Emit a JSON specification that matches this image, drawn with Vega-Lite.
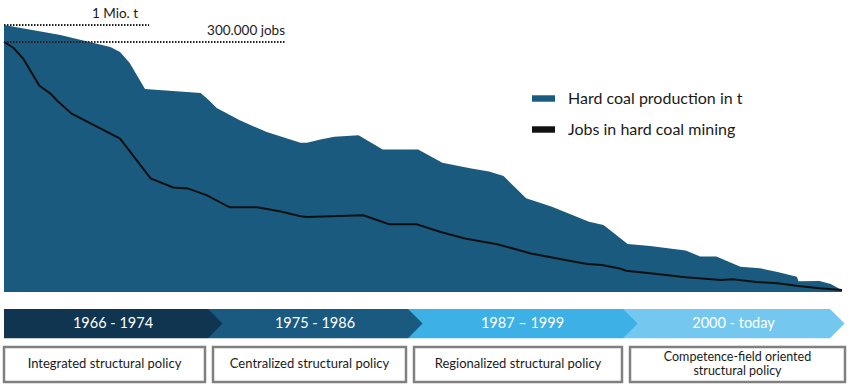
{
  "$schema": "https://vega.github.io/schema/vega-lite/v6.json",
  "width": 850,
  "height": 387,
  "autosize": {"type": "none"},
  "padding": 0,
  "config": {"view": {"stroke": null}, "font": "Lato"},
  "datasets": {
    "production": [
      {"year": 1966.0, "production_mio_t": 1.000},
      {"year": 1969.5, "production_mio_t": 0.963},
      {"year": 1971.3, "production_mio_t": 0.936},
      {"year": 1972.6, "production_mio_t": 0.918},
      {"year": 1973.2, "production_mio_t": 0.899},
      {"year": 1973.8, "production_mio_t": 0.858},
      {"year": 1974.75, "production_mio_t": 0.760},
      {"year": 1978.2, "production_mio_t": 0.745},
      {"year": 1978.7, "production_mio_t": 0.719},
      {"year": 1979.2, "production_mio_t": 0.689},
      {"year": 1980.6, "production_mio_t": 0.644},
      {"year": 1982.3, "production_mio_t": 0.599},
      {"year": 1984.4, "production_mio_t": 0.559},
      {"year": 1984.8, "production_mio_t": 0.559},
      {"year": 1985.7, "production_mio_t": 0.572},
      {"year": 1986.5, "production_mio_t": 0.581},
      {"year": 1988.0, "production_mio_t": 0.587},
      {"year": 1989.5, "production_mio_t": 0.534},
      {"year": 1991.7, "production_mio_t": 0.534},
      {"year": 1993.2, "production_mio_t": 0.484},
      {"year": 1993.9, "production_mio_t": 0.476},
      {"year": 1995.0, "production_mio_t": 0.463},
      {"year": 1996.1, "production_mio_t": 0.451},
      {"year": 1997.0, "production_mio_t": 0.434},
      {"year": 1998.4, "production_mio_t": 0.351},
      {"year": 2000.0, "production_mio_t": 0.319},
      {"year": 2002.3, "production_mio_t": 0.263},
      {"year": 2003.2, "production_mio_t": 0.251},
      {"year": 2004.7, "production_mio_t": 0.180},
      {"year": 2006.1, "production_mio_t": 0.172},
      {"year": 2008.3, "production_mio_t": 0.155},
      {"year": 2009.2, "production_mio_t": 0.133},
      {"year": 2010.2, "production_mio_t": 0.133},
      {"year": 2011.7, "production_mio_t": 0.095},
      {"year": 2012.9, "production_mio_t": 0.089},
      {"year": 2014.0, "production_mio_t": 0.075},
      {"year": 2015.2, "production_mio_t": 0.057},
      {"year": 2015.3, "production_mio_t": 0.040},
      {"year": 2016.6, "production_mio_t": 0.041},
      {"year": 2017.3, "production_mio_t": 0.030},
      {"year": 2018.0, "production_mio_t": 0.007}
    ],
    "jobs": [
      {"year": 1966.0, "jobs_thousand": 300},
      {"year": 1966.6, "jobs_thousand": 292.8},
      {"year": 1967.2, "jobs_thousand": 279.7},
      {"year": 1968.2, "jobs_thousand": 247.4},
      {"year": 1968.9, "jobs_thousand": 237.8},
      {"year": 1969.3, "jobs_thousand": 229.5},
      {"year": 1970.2, "jobs_thousand": 213.9},
      {"year": 1973.2, "jobs_thousand": 184.1},
      {"year": 1975.1, "jobs_thousand": 136.3},
      {"year": 1976.5, "jobs_thousand": 125.5},
      {"year": 1977.4, "jobs_thousand": 124.3},
      {"year": 1978.6, "jobs_thousand": 115.9},
      {"year": 1980.0, "jobs_thousand": 101.6},
      {"year": 1981.7, "jobs_thousand": 101.6},
      {"year": 1983.1, "jobs_thousand": 96.8},
      {"year": 1984.4, "jobs_thousand": 90.8},
      {"year": 1984.8, "jobs_thousand": 90.0},
      {"year": 1988.3, "jobs_thousand": 92.0},
      {"year": 1989.9, "jobs_thousand": 81.3},
      {"year": 1991.6, "jobs_thousand": 81.3},
      {"year": 1993.1, "jobs_thousand": 72.1},
      {"year": 1994.6, "jobs_thousand": 64.2},
      {"year": 1996.6, "jobs_thousand": 57.4},
      {"year": 1998.7, "jobs_thousand": 46.3},
      {"year": 2000.9, "jobs_thousand": 38.2},
      {"year": 2002.2, "jobs_thousand": 33.5},
      {"year": 2003.1, "jobs_thousand": 32.3},
      {"year": 2004.2, "jobs_thousand": 28.3},
      {"year": 2004.6, "jobs_thousand": 25.5},
      {"year": 2006.1, "jobs_thousand": 22.4},
      {"year": 2008.3, "jobs_thousand": 17.6},
      {"year": 2010.5, "jobs_thousand": 14.3},
      {"year": 2011.2, "jobs_thousand": 15.2},
      {"year": 2012.7, "jobs_thousand": 12.0},
      {"year": 2014.0, "jobs_thousand": 10.4},
      {"year": 2015.3, "jobs_thousand": 7.2},
      {"year": 2016.6, "jobs_thousand": 4.4},
      {"year": 2018.0, "jobs_thousand": 2.4}
    ],
    "periods": [
      {"period": "1966 - 1974", "start": 1966, "end": 1975, "policy": "Integrated structural policy"},
      {"period": "1975 - 1986", "start": 1975, "end": 1987, "policy": "Centralized structural policy"},
      {"period": "1987 – 1999", "start": 1987, "end": 2000, "policy": "Regionalized structural policy"},
      {"period": "2000 - today", "start": 2000, "end": 2019, "policy": "Competence-field oriented\nstructural policy"}
    ]
  },
  "layer": [
    {
      "data": {"name": "production"},
      "mark": {"type": "area", "interpolate": "linear", "opacity": 1},
      "encoding": {
        "x": {"field": "year", "type": "quantitative", "scale": {"domain": [1966, 2018], "range": [4, 842], "nice": false, "zero": false}, "axis": null},
        "y": {"field": "production_mio_t", "type": "quantitative", "scale": {"domain": [0, 1], "range": [292, 25], "nice": false, "zero": true}, "axis": null},
        "color": {
          "datum": "Hard coal production in t",
          "scale": {"domain": ["Hard coal production in t", "Jobs in hard coal mining"], "range": ["#1b5a7f", "#111111"]},
          "legend": {
            "title": null, "orient": "none", "legendX": 532, "legendY": 87, "padding": 0,
            "symbolType": "M-1,-0.28L1,-0.28L1,0.28L-1,0.28Z", "symbolSize": 529, "symbolStrokeWidth": 0, "symbolOpacity": 1,
            "labelFontSize": 16, "labelFont": "Lato", "labelColor": "#1a1a1a", "labelOffset": 13, "rowPadding": 11, "labelLimit": 0,
            "encode": {"symbols": {"update": {"fill": {"scale": "color", "field": "value"}, "stroke": {"value": "transparent"}}}}
          }
        }
      }
    },
    {
      "data": {"name": "jobs"},
      "mark": {"type": "line", "interpolate": "linear", "strokeWidth": 2},
      "encoding": {
        "x": {"field": "year", "type": "quantitative", "scale": {"domain": [1966, 2018], "range": [4, 842], "nice": false, "zero": false}, "axis": null},
        "y": {"field": "jobs_thousand", "type": "quantitative", "scale": {"domain": [0, 300], "range": [292, 42], "nice": false, "zero": true}, "axis": null},
        "color": {"datum": "Jobs in hard coal mining"}
      }
    },
    {
      "data": {"values": [{}]},
      "mark": {"type": "rule", "strokeDash": [1.5, 1.5], "strokeWidth": 2, "color": "#222222"},
      "encoding": {
        "x": {"datum": 1966, "type": "quantitative", "scale": {"domain": [1966, 2018], "range": [4, 842], "nice": false, "zero": false}, "axis": null},
        "x2": {"datum": 1975},
        "y": {"datum": 1, "type": "quantitative", "scale": {"domain": [0, 1], "range": [292, 25], "nice": false}, "axis": null}
      }
    },
    {
      "data": {"values": [{}]},
      "mark": {"type": "rule", "strokeDash": [1.5, 1.5], "strokeWidth": 2, "color": "#222222"},
      "encoding": {
        "x": {"datum": 1966, "type": "quantitative", "scale": {"domain": [1966, 2018], "range": [4, 842], "nice": false, "zero": false}, "axis": null},
        "x2": {"datum": 1983.5},
        "y": {"datum": 300, "type": "quantitative", "scale": {"domain": [0, 300], "range": [292, 42], "nice": false}, "axis": null}
      }
    },
    {
      "data": {"values": [{}]},
      "mark": {"type": "text", "align": "right", "baseline": "alphabetic", "dx": -11, "dy": -7, "fontSize": 13.5, "color": "#1a1a1a"},
      "encoding": {
        "x": {"datum": 1975, "type": "quantitative", "scale": {"domain": [1966, 2018], "range": [4, 842], "nice": false, "zero": false}, "axis": null},
        "y": {"datum": 1, "type": "quantitative", "scale": {"domain": [0, 1], "range": [292, 25], "nice": false}, "axis": null},
        "text": {"value": "1 Mio. t"}
      }
    },
    {
      "data": {"values": [{}]},
      "mark": {"type": "text", "align": "right", "baseline": "alphabetic", "dx": -1, "dy": -7, "fontSize": 13.5, "color": "#1a1a1a"},
      "encoding": {
        "x": {"datum": 1983.5, "type": "quantitative", "scale": {"domain": [1966, 2018], "range": [4, 842], "nice": false, "zero": false}, "axis": null},
        "y": {"datum": 300, "type": "quantitative", "scale": {"domain": [0, 300], "range": [292, 42], "nice": false}, "axis": null},
        "text": {"value": "300.000 jobs"}
      }
    },
    {
      "data": {"name": "periods"},
      "mark": {"type": "rect", "strokeWidth": 0},
      "encoding": {
        "x": {"field": "start", "type": "quantitative", "scale": {"domain": [1966, 1975, 1987, 2000, 2019], "range": [4, 208, 408, 623, 830], "nice": false, "zero": false}, "axis": null},
        "x2": {"field": "end"},
        "y": {"datum": 0, "type": "quantitative", "scale": {"domain": [0, 1], "range": [309, 382], "nice": false}, "axis": null},
        "y2": {"datum": 0.4},
        "fill": {"field": "period", "type": "nominal", "scale": {"domain": ["1966 - 1974", "1975 - 1986", "1987 – 1999", "2000 - today"], "range": ["#0f3550", "#1a5a80", "#3db0e6", "#74c8f0"]}, "legend": null}
      }
    },
    {
      "data": {"name": "periods"},
      "mark": {"type": "point", "shape": "M0,-1L1,0L0,1Z", "size": 852, "filled": true, "opacity": 1, "strokeWidth": 0},
      "encoding": {
        "x": {"field": "end", "type": "quantitative", "scale": {"domain": [1966, 1975, 1987, 2000, 2019], "range": [4, 208, 408, 623, 830], "nice": false, "zero": false}, "axis": null},
        "y": {"datum": 0.2, "type": "quantitative", "scale": {"domain": [0, 1], "range": [309, 382], "nice": false}, "axis": null},
        "fill": {"field": "period", "type": "nominal", "legend": null}
      }
    },
    {
      "data": {"name": "periods"},
      "transform": [{"fold": ["start", "end"], "as": ["bound", "yr"]}],
      "mark": {"type": "text", "align": "center", "baseline": "middle", "dx": 7, "fontSize": 14.5, "color": "#ffffff"},
      "encoding": {
        "x": {"aggregate": "mean", "field": "yr", "type": "quantitative", "scale": {"domain": [1966, 1975, 1987, 2000, 2019], "range": [4, 208, 408, 623, 830], "nice": false, "zero": false}, "axis": null},
        "y": {"datum": 0.2, "type": "quantitative", "scale": {"domain": [0, 1], "range": [309, 382], "nice": false}, "axis": null},
        "text": {"field": "period", "type": "nominal"}
      }
    },
    {
      "data": {"name": "periods"},
      "mark": {"type": "rect", "fill": "#ffffff", "stroke": "#808080", "strokeWidth": 2.5, "xOffset": 4, "x2Offset": -4},
      "encoding": {
        "x": {"field": "start", "type": "quantitative", "scale": {"domain": [1966, 1975, 1987, 2000, 2019], "range": [0, 209, 410, 626, 849], "nice": false, "zero": false}, "axis": null},
        "x2": {"field": "end"},
        "y": {"datum": 0.52, "type": "quantitative", "scale": {"domain": [0, 1], "range": [309, 382], "nice": false}, "axis": null},
        "y2": {"datum": 1}
      }
    },
    {
      "data": {"name": "periods"},
      "transform": [{"filter": "indexof(datum.policy, '\\n') < 0"}, {"fold": ["start", "end"], "as": ["bound", "yr"]}],
      "mark": {"type": "text", "align": "center", "baseline": "middle", "fontSize": 13, "color": "#1a1a1a"},
      "encoding": {
        "x": {"aggregate": "mean", "field": "yr", "type": "quantitative", "scale": {"domain": [1966, 1975, 1987, 2000, 2019], "range": [0, 209, 410, 626, 849], "nice": false, "zero": false}, "axis": null},
        "y": {"datum": 0.76, "type": "quantitative", "scale": {"domain": [0, 1], "range": [309, 382], "nice": false}, "axis": null},
        "text": {"field": "policy", "type": "nominal"}
      }
    },
    {
      "data": {"name": "periods"},
      "transform": [{"filter": "indexof(datum.policy, '\\n') >= 0"}, {"fold": ["start", "end"], "as": ["bound", "yr"]}],
      "mark": {"type": "text", "align": "center", "baseline": "middle", "dy": -7, "fontSize": 12.5, "lineBreak": "\n", "lineHeight": 14, "color": "#1a1a1a"},
      "encoding": {
        "x": {"aggregate": "mean", "field": "yr", "type": "quantitative", "scale": {"domain": [1966, 1975, 1987, 2000, 2019], "range": [0, 209, 410, 626, 849], "nice": false, "zero": false}, "axis": null},
        "y": {"datum": 0.76, "type": "quantitative", "scale": {"domain": [0, 1], "range": [309, 382], "nice": false}, "axis": null},
        "text": {"field": "policy", "type": "nominal"}
      }
    }
  ],
  "resolve": {"scale": {"x": "independent", "y": "independent"}}
}
